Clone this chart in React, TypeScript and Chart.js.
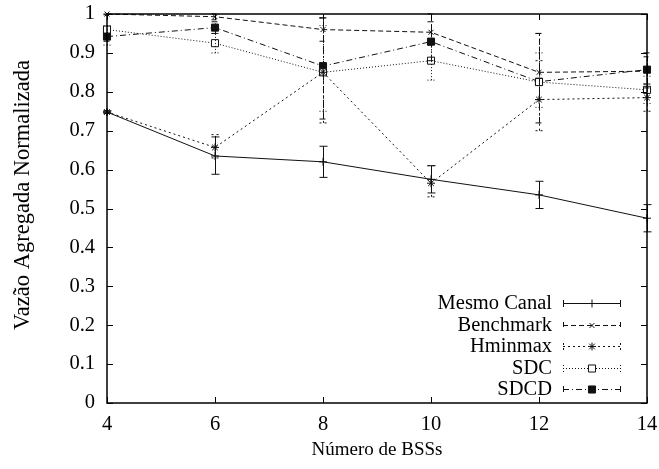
import React, { useEffect, useRef } from 'react';
import { Chart, registerables } from 'chart.js';
import { drawPoint } from 'chart.js/helpers';
Chart.register(...registerables);

// ---- data ----
const bssCounts = [4, 6, 8, 10, 12, 14];
const yTicks = [0, 0.1, 0.2, 0.3, 0.4, 0.5, 0.6, 0.7, 0.8, 0.9, 1];
const xTitle = 'Número de BSSs';
const yTitle = 'Vazão Agregada Normalizada';

const mesmoCanal = [0.748, 0.635, 0.62, 0.575, 0.535, 0.475];
const mesmoCanalLow = [0.745, 0.588, 0.58, 0.54, 0.5, 0.44];
const mesmoCanalHigh = [0.751, 0.684, 0.66, 0.61, 0.57, 0.51];

const benchmark = [1.0, 0.993, 0.96, 0.953, 0.85, 0.853];
const benchmarkLow = [0.998, 0.985, 0.93, 0.92, 0.78, 0.82];
const benchmarkHigh = [1.0, 1.0, 0.99, 1.0, 0.95, 0.89];

const hminmax = [0.748, 0.657, 0.85, 0.565, 0.78, 0.785];
const hminmaxLow = [0.745, 0.63, 0.72, 0.53, 0.7, 0.75];
const hminmaxHigh = [0.751, 0.69, 0.99, 0.61, 0.88, 0.82];

const sdc = [0.96, 0.925, 0.85, 0.88, 0.825, 0.805];
const sdcLow = [0.92, 0.9, 0.75, 0.83, 0.76, 0.77];
const sdcHigh = [0.97, 0.95, 0.97, 0.93, 0.9, 0.84];

const sdcd = [0.942, 0.965, 0.866, 0.929, 0.826, 0.857];
const sdcdLow = [0.93, 0.95, 0.73, 0.88, 0.72, 0.81];
const sdcdHigh = [0.95, 0.98, 0.99, 0.98, 0.95, 0.9];

const FONT = "'Liberation Serif', 'Times New Roman', serif";
const FS = 20.5;
const INK = '#111';

const errorBarPlugin = {
  id: 'errorBars',
  afterDatasetsDraw(chart: any) {
    const { ctx, scales } = chart;
    const xs = scales.x, ys = scales.y;
    chart.data.datasets.forEach((ds: any) => {
      ctx.save();
      ctx.strokeStyle = ds.borderColor;
      ctx.lineWidth = 1;
      ctx.setLineDash(ds.borderDash || []);
      bssCounts.forEach((b, j) => {
        const x = Math.round(xs.getPixelForValue(b)) + 0.5;
        const yl = ys.getPixelForValue(ds.errLow[j]);
        const yh = ys.getPixelForValue(ds.errHigh[j]);
        ctx.beginPath();
        ctx.moveTo(x, yl); ctx.lineTo(x, yh);
        ctx.moveTo(x - 4, yl); ctx.lineTo(x + 4, yl);
        ctx.moveTo(x - 4, yh); ctx.lineTo(x + 4, yh);
        ctx.stroke();
      });
      ctx.restore();
    });
  },
};

const framePlugin = {
  id: 'frame',
  afterDraw(chart: any) {
    const { ctx, chartArea: a, scales } = chart;
    ctx.save();
    ctx.strokeStyle = '#000';
    ctx.lineWidth = 1.5;
    ctx.setLineDash([]);
    ctx.strokeRect(a.left, a.top, a.right - a.left, a.bottom - a.top);
    ctx.lineWidth = 1;
    ctx.beginPath();
    const L = 6;
    scales.x.ticks.forEach((t: any) => {
      const x = Math.round(scales.x.getPixelForValue(t.value)) + 0.5;
      ctx.moveTo(x, a.bottom); ctx.lineTo(x, a.bottom - L);
      ctx.moveTo(x, a.top); ctx.lineTo(x, a.top + L);
    });
    scales.y.ticks.forEach((t: any) => {
      const y = Math.round(scales.y.getPixelForValue(t.value)) + 0.5;
      ctx.moveTo(a.left, y); ctx.lineTo(a.left + L, y);
      ctx.moveTo(a.right, y); ctx.lineTo(a.right - L, y);
    });
    ctx.stroke();

    // y-axis title
    ctx.save();
    ctx.translate(23, 195);
    ctx.rotate(-Math.PI / 2);
    ctx.font = `22.5px ${FONT}`;
    ctx.fillStyle = '#000';
    ctx.textAlign = 'center';
    ctx.textBaseline = 'middle';
    ctx.fillText(yTitle, 0, 0);
    ctx.restore();
    ctx.restore();
  },
};

const legendPlugin = {
  id: 'gnuLegend',
  afterDraw(chart: any) {
    const { ctx, chartArea: a } = chart;
    const n = chart.data.datasets.length;
    const textRight = a.right - 95;
    const x0 = a.right - 84;
    const x1 = a.right - 26;
    const xm = (x0 + x1) / 2;
    chart.data.datasets.forEach((ds: any, i: number) => {
      const y = Math.round(a.bottom - 14 - 21.5 * (n - 1 - i));
      ctx.save();
      ctx.fillStyle = '#000';
      ctx.font = `${FS}px ${FONT}`;
      ctx.textAlign = 'right';
      ctx.textBaseline = 'middle';
      ctx.fillText(ds.label, textRight, y + 1);
      ctx.strokeStyle = ds.borderColor;
      ctx.lineWidth = 1;
      ctx.setLineDash(ds.borderDash || []);
      ctx.beginPath();
      ctx.moveTo(x0, y + 0.5); ctx.lineTo(x1, y + 0.5);
      ctx.moveTo(x0 + 0.5, y - 3); ctx.lineTo(x0 + 0.5, y + 4);
      ctx.moveTo(x1 - 0.5, y - 3); ctx.lineTo(x1 - 0.5, y + 4);
      ctx.stroke();
      ctx.setLineDash([]);
      ctx.fillStyle = ds.pointBackgroundColor;
      ctx.strokeStyle = ds.pointBorderColor;
      drawPoint(ctx, {
        pointStyle: ds.pointStyle,
        radius: ds.pointRadius,
        borderWidth: 1,
        rotation: 0,
      } as any, xm, y + 0.5);
      ctx.restore();
    });
  },
};

export default function App() {
  const ref = useRef<HTMLCanvasElement>(null);
  useEffect(() => {
    if (!ref.current) return;
    const mk = (label: string, data: number[], lo: number[], hi: number[], dash: number[], ps: string, r: number, fill: string) => ({
      label,
      data: bssCounts.map((b, i) => ({ x: b, y: data[i] })),
      errLow: lo,
      errHigh: hi,
      borderColor: INK,
      borderWidth: 1,
      borderDash: dash,
      pointStyle: ps,
      pointRadius: r,
      pointBorderColor: INK,
      pointBackgroundColor: fill,
      pointBorderWidth: 1,
      fill: false,
      tension: 0,
      clip: false,
    });
    const chart = new Chart(ref.current, {
      type: 'line',
      data: {
        datasets: [
          mk('Mesmo Canal', mesmoCanal, mesmoCanalLow, mesmoCanalHigh, [], 'cross', 4, INK),
          mk('Benchmark', benchmark, benchmarkLow, benchmarkHigh, [5, 3], 'crossRot', 3.5, INK),
          mk('Hminmax', hminmax, hminmaxLow, hminmaxHigh, [2, 3], 'star', 4, INK),
          mk('SDC', sdc, sdcLow, sdcHigh, [1, 2], 'rect', 5, '#fff'),
          mk('SDCD', sdcd, sdcdLow, sdcdHigh, [6, 3, 1, 3], 'rect', 5, INK),
        ] as any,
      },
      options: {
        animation: false,
        responsive: false,
        maintainAspectRatio: false,
        layout: { padding: { top: 14, right: 12, left: 0, bottom: 0 } },
        plugins: { legend: { display: false }, tooltip: { enabled: false } },
        scales: {
          x: {
            type: 'linear',
            min: 4,
            max: 14,
            afterBuildTicks: (s: any) => { s.ticks = bssCounts.map((v) => ({ value: v })); },
            grid: { display: false, drawTicks: false },
            border: { display: false },
            ticks: { color: '#000', font: { family: FONT, size: FS }, padding: 9, maxRotation: 0 },
            title: { display: true, text: xTitle, color: '#000', font: { family: FONT, size: 19 }, padding: { top: 0, bottom: 8 } },
            afterFit: (s: any) => { s.height = 66; s.paddingLeft = 0; s.paddingRight = 0; },
          },
          y: {
            type: 'linear',
            min: 0,
            max: 1,
            afterBuildTicks: (s: any) => { s.ticks = yTicks.map((v) => ({ value: v })); },
            grid: { display: false, drawTicks: false },
            border: { display: false },
            ticks: { color: '#000', font: { family: FONT, size: FS }, padding: 12, callback: (v: any) => String(Math.round(Number(v) * 10) / 10) },
            title: { display: false },
            afterFit: (s: any) => { s.width = 107; s.paddingTop = 0; s.paddingBottom = 0; },
          },
        },
      } as any,
      plugins: [errorBarPlugin, framePlugin, legendPlugin],
    });
    return () => chart.destroy();
  }, []);
  return (
    <div style={{ position: 'fixed', left: 0, top: 0, width: 659, height: 469, background: '#fff' }}>
      <canvas ref={ref} width={659} height={469} style={{ width: 659, height: 469, display: 'block' }} />
    </div>
  );
}
